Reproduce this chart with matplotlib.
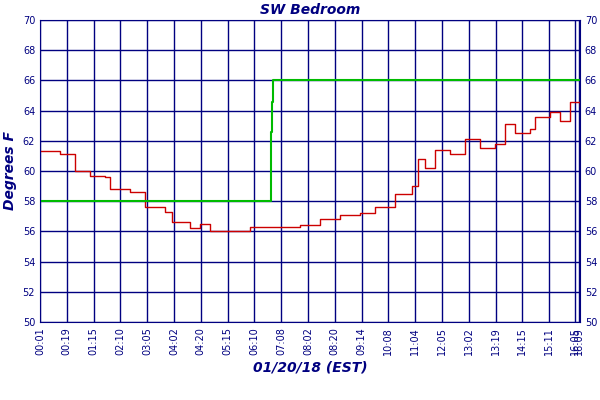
import matplotlib
matplotlib.use("Agg")
import matplotlib.pyplot as plt

tick_labels = ["00:01","00:19","01:15","02:10","03:05","04:02","04:20","05:15","06:10","07:08",
               "08:02","08:20","09:14","10:08","11:04","12:05","13:02","13:19","14:15","15:11","16:05","16:09"]
tick_pos = list(range(20)) + [19.98, 20.1]

temp_x = [0,0.75,1.31,1.87,2.43,2.61,3.36,3.92,4.66,4.93,5.60,5.97,6.34,7.28,7.84,8.58,9.70,10.45,11.19,11.94,
          12.5,13.25,13.88,14.1,14.37,14.74,15.3,15.86,16.42,16.98,17.35,17.72,18.28,18.47,19.03,19.4,19.78,20.15]
temp_y = [61.3,61.1,60.0,59.7,59.6,58.8,58.6,57.6,57.3,56.6,56.2,56.5,56.0,56.0,56.3,56.3,56.4,56.8,57.1,57.2,
          57.6,58.5,59.0,60.8,60.2,61.4,61.1,62.1,61.5,61.8,63.1,62.5,62.8,63.6,63.9,63.3,64.6,64.3]
set_x = [0,8.63,8.66,8.70,20.15]
set_y = [58,62.6,64.6,66,66]

navy = "#000080"
fig = plt.figure(figsize=(6,4), dpi=100)
ax = fig.add_axes([40/600, 78/400, 540/600, 302/400])
ax.plot(temp_x, temp_y, color="#cc0000", lw=1, drawstyle="steps-post")
ax.plot(set_x, set_y, color="#00bb00", lw=1.5, drawstyle="steps-post")
ax.set_xlim(0, 20.15)
ax.set_ylim(50, 70)
ax.set_yticks(range(50, 71, 2))
ax.set_xticks(tick_pos)
ax.set_xticklabels(tick_labels, rotation=90, fontsize=7, color=navy)
ax.tick_params(axis="y", labelsize=7, labelcolor=navy, right=True, labelright=True, length=0)
ax.tick_params(axis="x", length=0)
ax.grid(True, color=navy, lw=1)
for s in ax.spines.values():
    s.set_color(navy)
ax.set_title("SW Bedroom", fontsize=10, style="italic", fontweight="bold", color=navy, pad=4)
ax.set_ylabel("Degrees F", fontsize=10, style="italic", fontweight="bold", color=navy, labelpad=4)
ax.set_xlabel("01/20/18 (EST)", fontsize=10, style="italic", fontweight="bold", color=navy, labelpad=4)
ax.plot([], [], color="#cc0000", lw=1.5, label="SW Bedroom")
ax.plot([], [], color="#00bb00", lw=1.5, label="Setback")
h, l = ax.get_legend_handles_labels()
fig.legend(h[2:], l[2:], loc="lower center", bbox_to_anchor=(0.5, -0.01), ncol=2, frameon=False,
           prop={"style": "italic", "weight": "bold", "size": 8}, labelcolor=navy, handlelength=1.2)
fig.savefig("out.png", dpi=100)
